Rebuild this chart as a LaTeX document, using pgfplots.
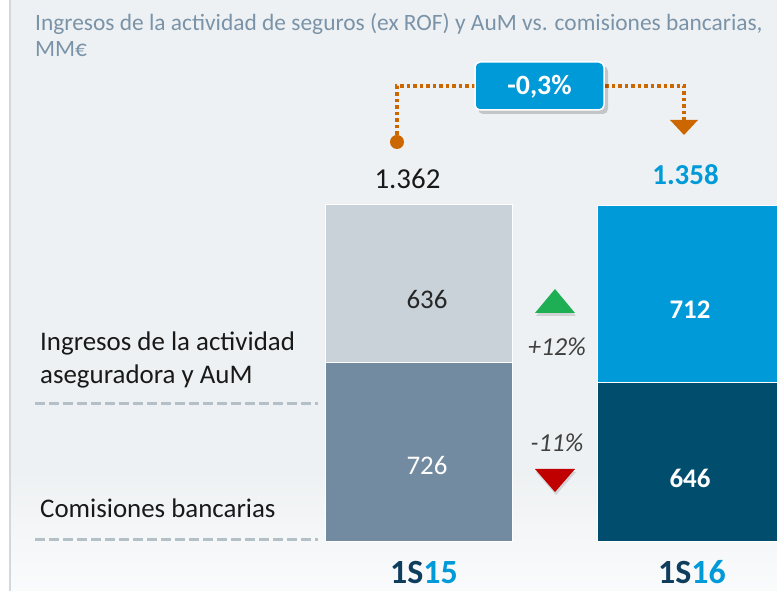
\documentclass[border=0pt]{standalone}
\usepackage{pgfplots}
\pgfplotsset{compat=1.18}
\usepackage{fontspec}
\setmainfont{Carlito}
\definecolor{bgc}{HTML}{EEF1F3}
\definecolor{titlec}{HTML}{7A93A8}
\definecolor{lightbar}{HTML}{C9D1D9}
\definecolor{midbar}{HTML}{728BA0}
\definecolor{bluebar}{HTML}{009AD9}
\definecolor{navybar}{HTML}{004D6E}
\definecolor{orangec}{HTML}{CC6600}
\definecolor{dashc}{HTML}{B4C0C8}
\definecolor{navytxt}{HTML}{0F3D5E}
\definecolor{greenc}{HTML}{1EAF55}
\definecolor{redc}{HTML}{C00000}
\definecolor{edgec}{HTML}{D3D8DD}
\newcommand{\fs}[1]{\fontsize{#1}{#1}\selectfont}
\begin{document}
\begin{tikzpicture}
\useasboundingbox (0,0) rectangle (777bp,591bp);
\fill[white] (0,0) rectangle (777bp,591bp);
\fill[bgc] (10bp,120bp) rectangle (777bp,591bp);
\shade[top color=bgc, bottom color=white!70!bgc] (10bp,0) rectangle (777bp,121bp);
\draw[edgec, line width=2bp] (10bp,0) -- (10bp,591bp);

\begin{axis}[at={(0,0)}, anchor=south west, width=777bp, height=591bp,
  scale only axis, xmin=0, xmax=777, ymin=-198.03, ymax=2190.5,
  axis lines=none, ybar stacked, bar width=187, clip=true]
% Comisiones bancarias
\addplot[fill=midbar, draw=white, line width=1bp] coordinates {(418.5,726) (690.5,0)};
\addplot[fill=navybar, draw=white, line width=1bp] coordinates {(418.5,0) (690.5,646)};
% Ingresos de la actividad aseguradora y AuM
\addplot[fill=lightbar, draw=white, line width=1bp] coordinates {(418.5,636) (690.5,0)};
\addplot[fill=bluebar, draw=white, line width=1bp] coordinates {(418.5,0) (690.5,712)};
\end{axis}

\begin{scope}[x=1bp, y=-1bp, shift={(0,591bp)}]
% title
\node[anchor=base west, text=titlec, font=\fs{23.5}, inner sep=0] at (35,31) {Ingresos de la actividad de seguros (ex ROF) y AuM vs. comisiones bancarias,};
\node[anchor=base west, text=titlec, font=\fs{23.5}, inner sep=0] at (35,57) {MM€};
% left labels and dashed lines
\node[anchor=base west, font=\fs{27}, inner sep=0, text=black!90] at (40,351) {Ingresos de la actividad};
\node[anchor=base west, font=\fs{27}, inner sep=0, text=black!90] at (40,384) {aseguradora y AuM};
\node[anchor=base west, font=\fs{27}, inner sep=0, text=black!90] at (40,518) {Comisiones bancarias};
\draw[dashc, line width=3bp, dash pattern=on 10bp off 4bp] (35,404) -- (318,404);
\draw[dashc, line width=3bp, dash pattern=on 10bp off 4bp] (35,540) -- (318,540);
% change annotation
\draw[orangec, line width=3.5bp, dash pattern=on 3.5bp off 3bp] (397,135) -- (397,86) -- (475,86);
\draw[orangec, line width=3.5bp, dash pattern=on 3.5bp off 3bp] (605,86) -- (684,86) -- (684,121);
\fill[orangec] (397,142) circle (7bp);
\fill[orangec] (670,120) -- (698,120) -- (684,135) -- cycle;
\fill[black, opacity=0.18, rounded corners=5bp] (478,66) rectangle (608,114);
\draw[fill=bluebar, draw=white, line width=1.5bp, rounded corners=5bp] (475,62) rectangle (604,110);
\node[text=white, font=\bfseries\fs{28}] at (539.5,87) {-0,3\%};
% totals
\node[font=\fs{29}, text=black!90] at (407.5,179) {1.362};
\node[font=\bfseries\fs{29}, text=bluebar] at (685.5,175) {1.358};
% segment values
\node[font=\fs{27}, text=black!85] at (427,300) {636};
\node[font=\fs{27}, text=white] at (427,466) {726};
\node[font=\bfseries\fs{27}, text=white] at (690,310) {712};
\node[font=\bfseries\fs{27}, text=white] at (690,478) {646};
% change indicators
\fill[black, opacity=0.12] (536,316) -- (576,316) -- (556,292) -- cycle;
\fill[greenc] (535,313) -- (575,313) -- (555,289) -- cycle;
\node[font=\itshape\fs{26}, text=black!75] at (557,347) {+12\%};
\node[font=\itshape\fs{26}, text=black!75] at (557,443) {-11\%};
\fill[black, opacity=0.12] (536,472) -- (576,472) -- (556,495) -- cycle;
\fill[redc] (535,469) -- (575,469) -- (555,492) -- cycle;
% categories
\node[anchor=base, inner sep=0, font=\bfseries\fs{34}] at (424,584) {\textcolor{navytxt}{1S}\textcolor{bluebar}{15}};
\node[anchor=base, inner sep=0, font=\bfseries\fs{34}] at (692,584) {\textcolor{navytxt}{1S}\textcolor{bluebar}{16}};
\end{scope}
\end{tikzpicture}
\end{document}
